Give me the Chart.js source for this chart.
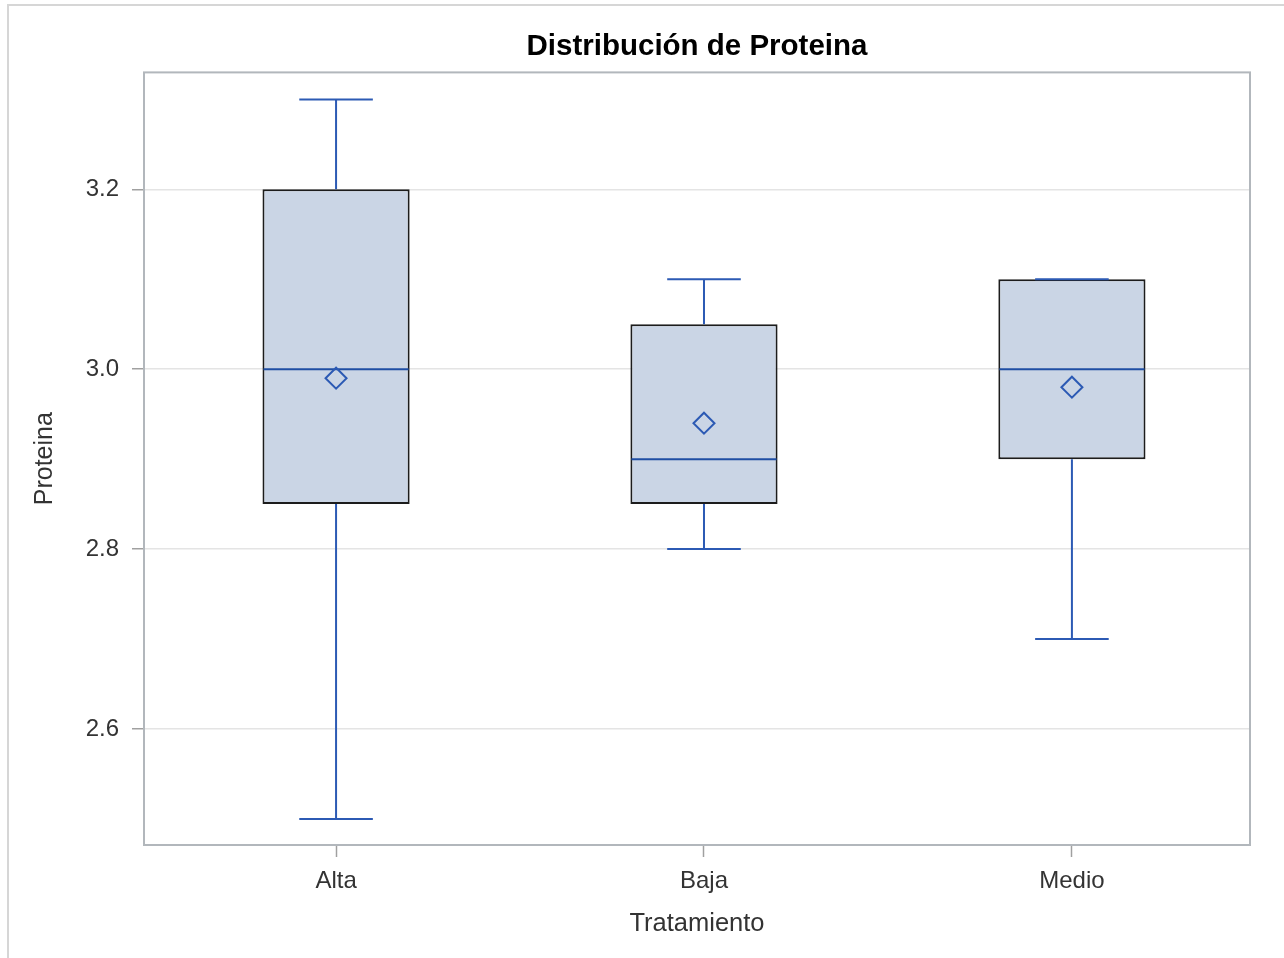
<!DOCTYPE html>
<html>
<head>
<meta charset="utf-8">
<script src="https://cdn.jsdelivr.net/npm/chart.js@4/dist/chart.umd.min.js"></script>
<style>
    html, body { margin: 0; padding: 0; background: #fff; }
    #marco { position: absolute; left: 7px; top: 4px; width: 1300px; height: 1000px;
             border-top: 2px solid #d6d6d6; border-left: 2px solid #d6d6d6; }
    #lienzo { position: absolute; left: 0; top: 0; width: 1284px; height: 958px; }
</style>
</head>
<body>
<div id="marco"></div>
<div id="lienzo"><canvas id="boxChart" width="1284" height="958"></canvas></div>
<script>
// Datos
const tratamientos = ['Alta', 'Baja', 'Medio'];
const minimos  = [2.5, 2.8, 2.7];
const cuartil1 = [2.85, 2.85, 2.9];
const medianas = [3.0, 2.9, 3.0];
const cuartil3 = [3.2, 3.05, 3.1];
const maximos  = [3.3, 3.1, 3.1];
const medias   = [2.99, 2.94, 2.98];
const ticksY   = [2.6, 2.8, 3.0, 3.2];

const azul = '#2C5AB4';
const azulMediana = '#1F4EA3';
const fuente = "'Liberation Sans', Arial, sans-serif";

// Bigotes y medianas sobre las cajas
const bigotesPlugin = {
    id: 'bigotes',
    afterDatasetDraw(chart, args) {
        if (args.index !== 0) return;
        const ctx = chart.ctx;
        const y = chart.scales.y;
        const meta = chart.getDatasetMeta(0);
        ctx.save();
        meta.data.forEach((bar, i) => {
            const cx = bar.x;
            const half = bar.width / 2;
            const cap = half / 2;
            const yMin = y.getPixelForValue(minimos[i]);
            const yQ1 = y.getPixelForValue(cuartil1[i]);
            const yQ3 = y.getPixelForValue(cuartil3[i]);
            const yMax = y.getPixelForValue(maximos[i]);
            const yMed = y.getPixelForValue(medianas[i]);

            ctx.strokeStyle = azul;
            ctx.lineWidth = 2;
            ctx.beginPath();
            ctx.moveTo(cx, yQ3); ctx.lineTo(cx, yMax);
            ctx.moveTo(cx - cap, yMax); ctx.lineTo(cx + cap, yMax);
            ctx.moveTo(cx, yQ1); ctx.lineTo(cx, yMin);
            ctx.moveTo(cx - cap, yMin); ctx.lineTo(cx + cap, yMin);
            ctx.stroke();

            ctx.strokeStyle = azulMediana;
            ctx.beginPath();
            ctx.moveTo(cx - half + 1, yMed); ctx.lineTo(cx + half - 1, yMed);
            ctx.stroke();
        });
        ctx.restore();
    },
    afterDraw(chart) {
        const { ctx, chartArea } = chart;
        ctx.save();
        ctx.strokeStyle = '#b2b7bc';
        ctx.lineWidth = 2;
        ctx.strokeRect(chartArea.left, chartArea.top,
                       chartArea.right - chartArea.left, chartArea.bottom - chartArea.top);
        ctx.restore();
    }
};

new Chart(document.getElementById('boxChart'), {
    type: 'bar',
    data: {
        datasets: [{
            label: 'Caja',
            data: tratamientos.map((t, i) => ({ x: i, y: [cuartil1[i], cuartil3[i]] })),
            backgroundColor: '#CAD5E5',
            borderColor: '#1c1c1c',
            borderWidth: 2,
            borderSkipped: false,
            barPercentage: 0.4,
            categoryPercentage: 1.0,
            order: 2
        }, {
            type: 'line',
            label: 'Media',
            data: medias.map((m, i) => ({ x: i, y: m })),
            showLine: false,
            pointStyle: 'rectRot',
            pointRadius: 10.5,
            pointBorderWidth: 2,
            pointBorderColor: azul,
            pointBackgroundColor: 'rgba(0,0,0,0)',
            order: 1
        }]
    },
    options: {
        responsive: false,
        animation: false,
        devicePixelRatio: 1,
        layout: { padding: { left: 0, right: 34, top: 0, bottom: 0 } },
        plugins: {
            legend: { display: false },
            tooltip: { enabled: false },
            title: {
                display: true,
                fullSize: false,
                text: 'Distribución de Proteina',
                color: '#000',
                font: { family: fuente, size: 29.5, weight: 'bold' },
                padding: { top: 29, bottom: 8 }
            }
        },
        scales: {
            x: {
                type: 'linear',
                min: -0.522,
                max: 2.484,
                offset: false,
                afterBuildTicks: (s) => { s.ticks = tratamientos.map((t, i) => ({ value: i })); },
                grid: { offset: false, drawOnChartArea: false, tickLength: 12,
                        tickColor: '#a0a0a0', tickWidth: 1.5 },
                border: { display: false },
                ticks: { color: '#333', padding: 10, font: { family: fuente, size: 24 },
                         callback: (v) => tratamientos[v] },
                title: { display: true, text: 'Tratamiento', color: '#333',
                         font: { family: fuente, size: 25.5 }, padding: { top: 0, bottom: 19 } },
                afterFit: (s) => { s.height = 113; }
            },
            y: {
                min: 2.471,
                max: 3.33,
                afterBuildTicks: (s) => { s.ticks = ticksY.map(v => ({ value: v })); },
                grid: { color: '#e4e4e4', lineWidth: 1.5, tickLength: 12,
                        tickColor: '#a0a0a0', tickWidth: 1.5 },
                border: { display: false },
                ticks: { color: '#333', padding: 13, font: { family: fuente, size: 24 },
                         callback: (v) => Number(v).toFixed(1) },
                title: { display: true, text: 'Proteina', color: '#333',
                         font: { family: fuente, size: 25 }, padding: { top: 30, bottom: 0 } },
                afterFit: (s) => { s.width = 144; }
            }
        }
    },
    plugins: [bigotesPlugin]
});
</script>
</body>
</html>
